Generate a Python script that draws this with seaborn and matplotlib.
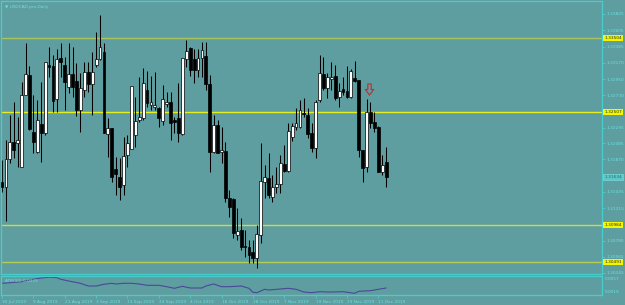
import matplotlib
matplotlib.use("Agg")
import matplotlib.pyplot as plt
import matplotlib.transforms as mtransforms
from matplotlib.path import Path
import seaborn as sns
import pandas as pd

# USDCAD daily bars, 30 Jul 2019 .. 13 Dec 2019
opens = [1.31567, 1.31500, 1.31876, 1.32105, 1.32091, 1.31769, 1.32736, 1.33005, 1.32239, 1.31970,
         1.32347, 1.32226, 1.33139, 1.33126, 1.32683, 1.33234, 1.33139, 1.32844, 1.33019, 1.32924,
         1.32535, 1.32804, 1.33045, 1.32884, 1.33139, 1.33220, 1.33314, 1.32212, 1.32293, 1.31742,
         1.31634, 1.31526, 1.31930, 1.32010, 1.32199, 1.32400, 1.32427, 1.32804, 1.32602, 1.32575,
         1.32562, 1.32387, 1.32615, 1.32642, 1.32400, 1.32427, 1.32212, 1.33220, 1.33368, 1.33220,
         1.33072, 1.33234, 1.33260, 1.32884, 1.31970, 1.32333, 1.31970, 1.31984, 1.31352, 1.31338,
         1.30855, 1.30922, 1.30707, 1.30693, 1.30626, 1.30545, 1.30855, 1.31567, 1.31620, 1.31365,
         1.31500, 1.31540, 1.31809, 1.31715, 1.32172, 1.32306, 1.32306, 1.32494, 1.32467, 1.32226,
         1.32024, 1.32669, 1.33019, 1.32830, 1.32951, 1.32992, 1.32709, 1.32817, 1.32790, 1.32709,
         1.32965, 1.32938, 1.31997, 1.31769, 1.32508, 1.32373, 1.32306, 1.31701, 1.31836]
highs = [1.31863, 1.32131, 1.32467, 1.32642, 1.32441, 1.32911, 1.33435, 1.33126, 1.32736, 1.32669,
         1.32911, 1.33180, 1.33381, 1.33274, 1.33354, 1.33435, 1.33247, 1.33435, 1.33381, 1.33166,
         1.33032, 1.33180, 1.33180, 1.33314, 1.33583, 1.33811, 1.33435, 1.32427, 1.32293, 1.31903,
         1.31889, 1.32172, 1.32199, 1.32857, 1.32709, 1.32978, 1.33099, 1.33059, 1.32992, 1.33045,
         1.32575, 1.32871, 1.32777, 1.32777, 1.32441, 1.32898, 1.33234, 1.33475, 1.33381, 1.33354,
         1.33354, 1.33449, 1.33449, 1.33005, 1.32467, 1.32400, 1.32306, 1.32105, 1.31459, 1.31352,
         1.31217, 1.31083, 1.30922, 1.30787, 1.30787, 1.30989, 1.32091, 1.31795, 1.31957, 1.31661,
         1.31769, 1.31930, 1.32064, 1.32360, 1.32360, 1.32562, 1.32669, 1.32696, 1.32562, 1.32360,
         1.32669, 1.33274, 1.33247, 1.33032, 1.33180, 1.33139, 1.32898, 1.32978, 1.33126, 1.33086,
         1.33193, 1.32938, 1.31997, 1.32683, 1.32642, 1.32508, 1.32320, 1.31930, 1.32037]
lows = [1.31432, 1.31043, 1.31822, 1.31889, 1.31769, 1.31769, 1.32736, 1.32266, 1.31957, 1.31957,
        1.31836, 1.32199, 1.32978, 1.32508, 1.32508, 1.32978, 1.32535, 1.32763, 1.32709, 1.32454,
        1.32239, 1.32709, 1.32777, 1.32467, 1.33113, 1.33207, 1.32226, 1.31903, 1.31567, 1.31392,
        1.31325, 1.31392, 1.31769, 1.32010, 1.32037, 1.32373, 1.32400, 1.32575, 1.32535, 1.32535,
        1.32306, 1.32333, 1.32575, 1.32131, 1.32226, 1.32105, 1.32199, 1.33113, 1.32992, 1.32898,
        1.32978, 1.32978, 1.32804, 1.31701, 1.31957, 1.31957, 1.31822, 1.31298, 1.31096, 1.30814,
        1.30787, 1.30653, 1.30559, 1.30478, 1.30478, 1.30411, 1.30747, 1.31352, 1.31352, 1.31298,
        1.31419, 1.31419, 1.31701, 1.31701, 1.32118, 1.32266, 1.32293, 1.32441, 1.32158, 1.31970,
        1.31889, 1.32642, 1.32804, 1.32696, 1.32804, 1.32669, 1.32575, 1.32736, 1.32696, 1.32696,
        1.32911, 1.31903, 1.31567, 1.31701, 1.32293, 1.32239, 1.31701, 1.31661, 1.31500]
closes = [1.31500, 1.31876, 1.32105, 1.31997, 1.32131, 1.32736, 1.33019, 1.32279, 1.32105, 1.32400,
          1.32226, 1.33180, 1.33113, 1.32656, 1.33220, 1.33180, 1.32911, 1.33019, 1.32844, 1.32535,
          1.32830, 1.33045, 1.32884, 1.33045, 1.33220, 1.33381, 1.32226, 1.32293, 1.31634, 1.31674,
          1.31500, 1.31916, 1.32091, 1.32857, 1.32387, 1.32441, 1.32898, 1.32629, 1.32642, 1.32602,
          1.32427, 1.32683, 1.32642, 1.32360, 1.32373, 1.32226, 1.33234, 1.33327, 1.33072, 1.33072,
          1.33234, 1.33341, 1.32884, 1.31970, 1.32333, 1.31957, 1.31997, 1.31352, 1.31231, 1.30881,
          1.30908, 1.30693, 1.30693, 1.30586, 1.30545, 1.30868, 1.31580, 1.31634, 1.31392, 1.31500,
          1.31540, 1.31822, 1.31715, 1.32252, 1.32320, 1.32360, 1.32535, 1.32481, 1.32212, 1.32024,
          1.32642, 1.33032, 1.32830, 1.32978, 1.32978, 1.32696, 1.32790, 1.32777, 1.32709, 1.33059,
          1.32924, 1.31997, 1.31755, 1.32508, 1.32360, 1.32293, 1.31701, 1.31795, 1.31634]

date_bars = [0, 8, 16, 24, 32, 40, 48, 56, 64, 72, 80, 88, 96]
date_labels = ["30 Jul 2019", "9 Aug 2019", "21 Aug 2019", "3 Sep 2019", "13 Sep 2019",
               "24 Sep 2019", "4 Oct 2019", "16 Oct 2019", "28 Oct 2019", "7 Nov 2019",
               "19 Nov 2019", "29 Nov 2019", "11 Dec 2019"]

price_ticks = [1.33825, 1.33605, 1.33385, 1.33170, 1.32950, 1.32730, 1.32295, 1.32085,
               1.31870, 1.31435, 1.31215, 1.30780, 1.30565, 1.30345]

levels = [1.33504, 1.32507, 1.30984, 1.30491]
level_colors = ["#A9C45A", "#E6EE1E", "#D2DA3C", "#B4CC50"]
last_price = 1.31634
signal_bar = 93.7
signal_price = 1.32818

# ATR(10) sub-window, sampled along the line
atr_bars = [0, 2, 5, 7, 10, 12, 14, 15, 17, 20, 22, 24, 26, 28, 29, 31, 33, 35, 37, 40,
            42, 44, 46, 48, 51, 52, 54, 56, 58, 61, 63, 64, 65, 67, 68, 71, 73, 75, 77, 79,
            81, 83, 84, 87, 90, 91, 94, 96, 98]
atr_values = [0.00424, 0.00436, 0.00456, 0.00490, 0.00530, 0.00544, 0.00536, 0.00504, 0.00470, 0.00424,
              0.00370, 0.00370, 0.00404, 0.00424, 0.00410, 0.00424, 0.00424, 0.00410, 0.00384, 0.00384,
              0.00356, 0.00324, 0.00364, 0.00330, 0.00330, 0.00370, 0.00410, 0.00356, 0.00356, 0.00370,
              0.00324, 0.00244, 0.00236, 0.00304, 0.00290, 0.00310, 0.00324, 0.00304, 0.00250, 0.00236,
              0.00256, 0.00250, 0.00250, 0.00256, 0.00224, 0.00264, 0.00276, 0.00304, 0.00330]

BG = "#5F9EA0"
FRAME = "#48CDCD"
TXT = "#6CE0E0"
FS = 3.1

sns.set_style("dark", {"axes.facecolor": BG, "figure.facecolor": BG,
                       "axes.edgecolor": FRAME, "axes.grid": False})
plt.rcParams["font.family"] = ["DejaVu Sans"]

df = pd.DataFrame({"open": opens, "high": highs, "low": lows, "close": closes})
df["bar"] = range(len(df))
df["bull"] = df["close"] >= df["open"]
df["bottom"] = df[["open", "close"]].min(axis=1)
df["height"] = (df["close"] - df["open"]).abs().clip(lower=0.00012)

W, H = 625, 305
fig = plt.figure(figsize=(W / 100, H / 100), dpi=100, facecolor=BG)
ax = fig.add_axes([1 / W, 31 / H, 601 / W, 273 / H])
ax_atr = fig.add_axes([1 / W, 10 / H, 601 / W, 19 / H], sharex=ax)

for a in (ax, ax_atr):
    a.set_facecolor(BG)
    for s in a.spines.values():
        s.set_color(FRAME)
        s.set_linewidth(0.9)

# level lines
for lv, col in zip(levels, level_colors):
    ax.axhline(lv, color=col, lw=1.0, zorder=1)

# candles
ax.vlines(df["bar"], df["low"], df["high"], color="black", lw=0.75, zorder=2)
ax.bar(df["bar"], df["height"], bottom=df["bottom"], width=0.72,
       color=["white" if b else "black" for b in df["bull"]],
       edgecolor="black", linewidth=0.5, zorder=3)

# sell arrow
arrow = Path([(-0.3, 1), (0.3, 1), (0.3, 0), (0.75, 0), (0, -1), (-0.75, 0), (-0.3, 0), (-0.3, 1)],
             [Path.MOVETO] + [Path.LINETO] * 6 + [Path.CLOSEPOLY])
ax.plot([signal_bar], [signal_price], marker=arrow, markersize=8, mfc="none",
        mec="#C8282E", mew=0.8, zorder=4)

ax.set_xlim(-0.26, 153.06)
ax.set_ylim(1.30331, 1.33999)
ax.yaxis.tick_right()
ax.set_yticks(price_ticks)
ax.set_yticklabels([f"{v:.5f}" for v in price_ticks])
ax.tick_params(axis="y", right=True, length=2, width=0.6, color=FRAME,
               labelsize=FS, labelcolor=TXT, pad=1.5)
ax.tick_params(axis="x", bottom=False, labelbottom=False)

trans = mtransforms.blended_transform_factory(ax.transAxes, ax.transData)
for lv in levels:
    ax.text(1.004, lv, f"{lv:.5f}", transform=trans, fontsize=FS, color="#203030",
            va="center", ha="left",
            bbox=dict(boxstyle="square,pad=0.25", fc="#F5F500", ec="none"))
ax.text(1.004, last_price, f"{last_price:.5f}", transform=trans, fontsize=FS, color="#2E6A6C",
        va="center", ha="left",
        bbox=dict(boxstyle="square,pad=0.25", fc="#5CC8C8", ec="#7FE0E0", lw=0.4))

ax.text(0.006, 0.985, "\u25bc USDCAD.pro,Daily", transform=ax.transAxes, fontsize=FS,
        color=TXT, va="top", ha="left")

# ATR window
sns.lineplot(x=atr_bars, y=atr_values, ax=ax_atr, color="#4A4898", lw=0.8)
ax_atr.set_ylim(0.0019, 0.0057)
ax_atr.set_yticks([])
ax_atr.set_ylabel("")
ax_atr.text(0.006, 0.85, "ATR(10) 0.0039", transform=ax_atr.transAxes, fontsize=FS,
            color=TXT, va="top", ha="left")
ax_atr.text(1.004, 0.85, "0.0057", transform=ax_atr.transAxes, fontsize=FS,
            color=TXT, va="center", ha="left")
ax_atr.text(1.004, 0.17, "0.0019", transform=ax_atr.transAxes, fontsize=FS,
            color=TXT, va="center", ha="left")

ax_atr.set_xticks(date_bars)
ax_atr.set_xticklabels(date_labels, ha="left")
ax_atr.tick_params(axis="x", bottom=True, length=2.5, width=0.6, color=FRAME,
                   labelsize=FS, labelcolor=TXT, pad=1)

fig.savefig("out.png", dpi=100, facecolor=BG)
